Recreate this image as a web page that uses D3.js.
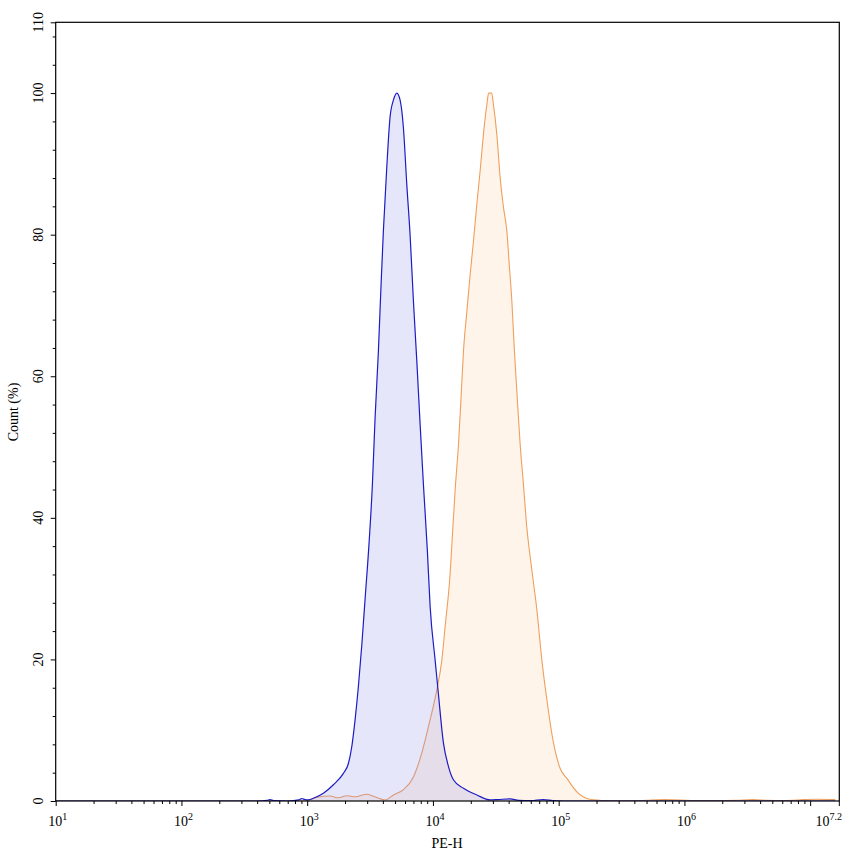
<!DOCTYPE html>
<html>
<head>
<meta charset="utf-8">
<script src="https://cdn.jsdelivr.net/npm/d3@7"></script>
<style>
  html, body { margin: 0; padding: 0; background: #fff; }
  svg { display: block; }
  text { font-family: "Liberation Serif", "Times New Roman", serif; fill: #000; }
</style>
</head>
<body>
<svg id="chart" width="853" height="856"></svg>
<script>
// ---- data (PE-H value, Count %) ----
const blueX = [10, 400, 480, 507, 540, 700, 860, 906, 960, 1016, 1156, 1346, 1616, 1941, 2127, 2264, 2405, 2555, 2718, 2889, 3107, 3301, 3467, 3683, 3870, 4036, 4294, 4561, 4849, 5165, 5483, 5825, 6196, 6586, 6998, 7447, 7910, 8403, 9036, 9500, 10410, 11070, 12120, 13280, 14550, 17490, 22340, 28510, 33000, 41100, 48000, 60000, 75300, 90000, 110000, 15850000];
const blueY = [0, 0, 0.1, 0.2, 0.05, 0, 0.15, 0.35, 0.2, 0.15, 0.5, 1.1, 2.3, 3.9, 5.3, 7.7, 11.5, 16.2, 22.0, 28.6, 36.5, 44.7, 54.1, 63.5, 73.0, 80.5, 89.5, 96.6, 99.0, 100, 99.0, 95.1, 87.1, 79.9, 70.6, 62.1, 53.2, 44.7, 35.3, 27.5, 19.9, 15.0, 8.2, 4.9, 3.0, 1.8, 0.85, 0.15, 0.2, 0.3, 0.1, 0.05, 0.2, 0.05, 0, 0];

const orangeX = [10, 962, 1191, 1521, 1771, 2066, 2405, 2979, 3581, 4169, 4853, 5825, 6998, 8161, 9506, 10740, 11770, 12510, 13710, 14140, 15030, 15970, 16680, 17490, 18620, 19780, 21010, 22340, 23730, 25220, 26840, 27730, 29310, 30270, 32200, 34240, 36380, 38710, 40610, 42440, 44490, 47000, 49400, 52480, 55850, 60420, 67090, 73520, 80580, 90980, 102800, 116200, 139600, 178200, 241700, 330000, 450000, 540000, 700000, 930000, 1200000, 1800000, 2600000, 3500000, 4500000, 6000000, 8000000, 11000000, 15850000];
const orangeY = [0, 0, 0.5, 0.7, 0.45, 0.75, 0.6, 0.95, 0.5, 0.15, 0.85, 1.6, 3.4, 6.8, 11.5, 15.7, 19.9, 24.7, 32.2, 36.2, 44.0, 50.4, 56.5, 63.5, 69.2, 74.4, 79.1, 84.3, 89.0, 94.2, 98.4, 100, 100, 98.4, 94.2, 88.1, 83.9, 80.5, 75.4, 70.6, 63.5, 56.5, 50.4, 44.7, 38.6, 33.4, 27.0, 19.9, 14.3, 8.2, 4.6, 3.2, 1.3, 0.25, 0.05, 0, 0.05, 0.15, 0.2, 0.15, 0.05, 0.05, 0.1, 0.2, 0.1, 0.05, 0.15, 0.25, 0.2];

const xMajorExps = [1, 2, 3, 4, 5, 6, 7];
const xLabelExps = ["1", "2", "3", "4", "5", "6", "7.2"];
const yTickValues = [0, 20, 40, 60, 80, 100, 110];
const xTitle = "PE-H";
const yTitle = "Count  (%)";

// ---- layout ----
const svg = d3.select("#chart");
const mLeft = 55.7, mRight = 839.3, mTop = 22.3, mBottom = 801;
const xMax = Math.pow(10, 7.2);

const x = d3.scaleLog().domain([10, xMax]).range([mLeft, 835.3]);
const y = d3.scaleLinear().domain([0, 110]).range([mBottom, mTop]);

const blue = blueX.map((v, i) => [v, blueY[i]]);
const orange = orangeX.map((v, i) => [v, orangeY[i]]);

const area = d3.area().x(d => x(d[0])).y0(y(0)).y1(d => y(d[1])).curve(d3.curveMonotoneX);
const line = d3.line().x(d => x(d[0])).y(d => y(d[1])).curve(d3.curveMonotoneX);

const plot = svg.append("g");
plot.append("clipPath").attr("id", "clip").append("rect")
  .attr("x", mLeft).attr("y", mTop).attr("width", mRight - mLeft).attr("height", mBottom - mTop);
const pg = plot.append("g").attr("clip-path", "url(#clip)");

// orange histogram
pg.append("path").datum(orange).attr("d", area).attr("fill", "#fef4e9");
pg.append("path").datum(orange).attr("d", line).attr("fill", "none")
  .attr("stroke", "#ef9f5d").attr("stroke-width", 1.1);
// blue histogram
pg.append("path").datum(blue).attr("d", area).attr("fill", "rgb(130,130,235)").attr("fill-opacity", 0.2);
pg.append("path").datum(blue).attr("d", line).attr("fill", "none")
  .attr("stroke", "#1c1cc4").attr("stroke-width", 1.2);

// frame
svg.append("rect").attr("x", mLeft).attr("y", mTop).attr("width", mRight - mLeft).attr("height", mBottom - mTop)
  .attr("fill", "none").attr("stroke", "#000").attr("stroke-width", 1.2);

// x ticks (log major + minor)
const xMinor = [];
xMajorExps.forEach(e => {
  for (let m = 2; m <= 9; m++) {
    const v = m * Math.pow(10, e);
    if (v < xMax) xMinor.push(v);
  }
});
const xAxisMinor = d3.axisBottom(x).tickValues(xMinor).tickSize(3).tickFormat("");
const xAxisMajor = d3.axisBottom(x).tickValues(xMajorExps.map(e => Math.pow(10, e))).tickSize(5).tickFormat("");
const gxm = svg.append("g").attr("transform", `translate(0,${mBottom})`).call(xAxisMinor);
const gxM = svg.append("g").attr("transform", `translate(0,${mBottom})`).call(xAxisMajor);
[gxm, gxM].forEach(g => {
  g.select(".domain").remove();
  g.selectAll("line").attr("stroke", "#000").attr("stroke-width", 1);
});
svg.append("line").attr("x1", mRight).attr("x2", mRight).attr("y1", mBottom).attr("y2", mBottom + 5)
  .attr("stroke", "#000");

// x labels with superscripts
const xLabelVals = xLabelExps.map(s => Math.pow(10, +s));
xLabelVals.forEach((v, i) => {
  const isLast = i === xLabelVals.length - 1;
  const t = svg.append("text")
    .attr("x", isLast ? 842 : x(v) + 2)
    .attr("y", 826)
    .attr("font-size", 14)
    .attr("text-anchor", isLast ? "end" : "middle");
  t.append("tspan").text("10");
  t.append("tspan").attr("dy", -6).attr("font-size", 10).text(xLabelExps[i]);
});

// y ticks
const yMinor = d3.range(0, 111, 4).filter(v => v % 20 !== 0);
const yAxisMinor = d3.axisLeft(y).tickValues(yMinor).tickSize(3).tickFormat("");
const yAxisMajor = d3.axisLeft(y).tickValues(yTickValues).tickSize(5).tickFormat("");
const gym = svg.append("g").attr("transform", `translate(${mLeft},0)`).call(yAxisMinor);
const gyM = svg.append("g").attr("transform", `translate(${mLeft},0)`).call(yAxisMajor);
[gym, gyM].forEach(g => {
  g.select(".domain").remove();
  g.selectAll("line").attr("stroke", "#000").attr("stroke-width", 1);
});

// y labels rotated
yTickValues.forEach(v => {
  svg.append("text")
    .attr("transform", `translate(43,${y(v)}) rotate(-90)`)
    .attr("text-anchor", "middle")
    .attr("font-size", 14)
    .text(v);
});

// titles
svg.append("text").attr("x", 447).attr("y", 848).attr("text-anchor", "middle")
  .attr("font-size", 14).text(xTitle);
svg.append("text").attr("transform", `translate(18,412) rotate(-90)`).attr("text-anchor", "middle")
  .attr("font-size", 14).text(yTitle);
</script>
</body>
</html>
